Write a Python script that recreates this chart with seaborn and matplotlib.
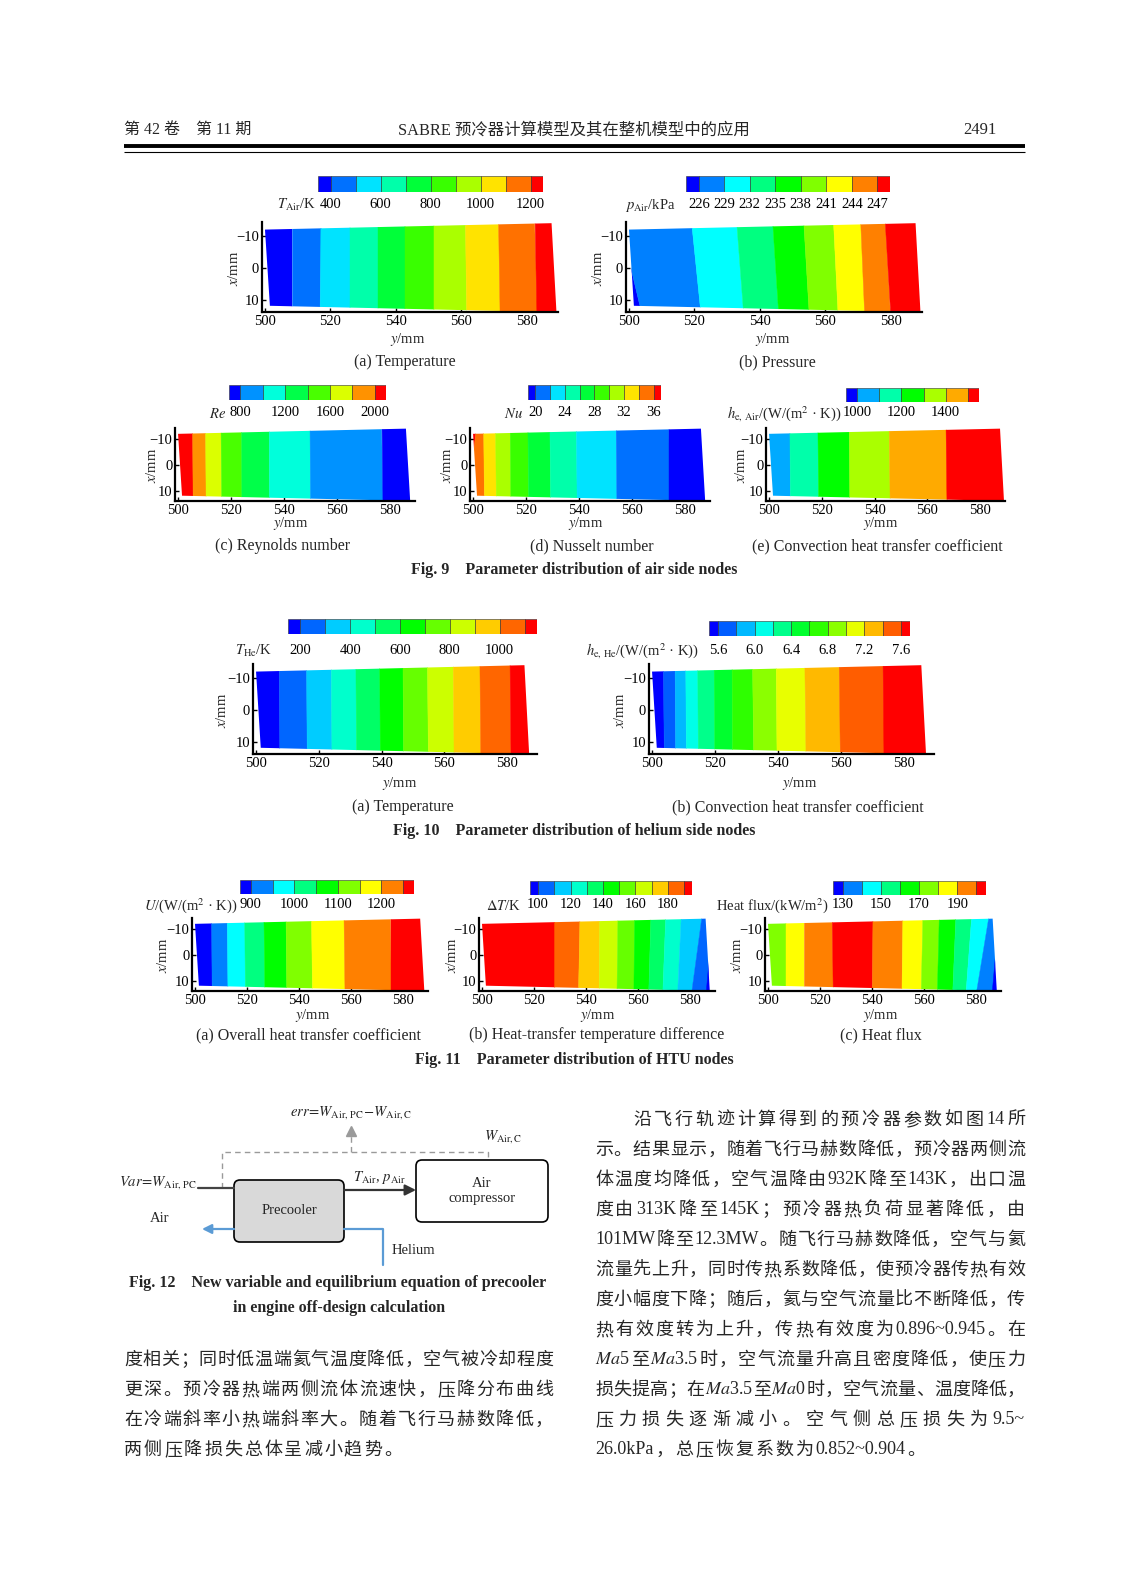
import numpy as np
import matplotlib
matplotlib.use("Agg")
import matplotlib.pyplot as plt
from matplotlib.colors import hsv_to_rgb
from matplotlib.patches import Polygon, FancyBboxPatch
import seaborn as sns

sns.set_theme(style="white")
plt.rcParams['font.family'] = ['Liberation Serif', 'Noto Sans CJK SC', 'DejaVu Sans']
plt.rcParams['mathtext.fontset'] = 'stix'
plt.rcParams['axes.unicode_minus'] = True

# ---------------------------------------------------------------- data
X_TICKS = [500, 520, 540, 560, 580]
Y_TICKS = [-10, 0, 10]

# Fig.9(a) air temperature
TA_BOUNDS = [350, 400, 500, 600, 700, 800, 900, 1000, 1100, 1200, 1250]
TA_TICKS = [400, 600, 800, 1000, 1200]
TA_TOP = [508.4, 517.2, 526.0, 534.4, 542.8, 551.6, 561.2, 571.3, 582.3]
TA_BOT = [508.4, 516.8, 526.0, 534.4, 542.8, 551.6, 561.6, 571.8, 583.2]
TA_CELLS = [0, 1, 2, 3, 4, 5, 6, 7, 8, 9]
TA_END = [587.5, 589.0]

# Fig.9(b) air pressure
PA_BOUNDS = [224.5, 226, 229, 232, 235, 238, 241, 244, 247, 248.5]
PA_TICKS = [226, 229, 232, 235, 238, 241, 244, 247]
PA_TOP = [497.0, 519.0, 532.8, 543.8, 553.3, 562.4, 570.7, 578.2]
PA_BOT = [504.2, 522.1, 535.1, 545.8, 555.1, 563.9, 572.0, 579.9]
PA_CELLS = [0, 1, 2, 3, 4, 5, 6, 7, 8]
PA_END = [587.5, 589.0]

# Fig.9(c) Reynolds number
RE_BOUNDS = [700, 800, 1000, 1200, 1400, 1600, 1800, 2000, 2100]
RE_TICKS = [800, 1200, 1600, 2000]
RE_TOP = [505.5, 510.4, 516.2, 524.0, 534.4, 549.8, 576.8]
RE_BOT = [505.7, 510.6, 516.5, 524.1, 534.5, 550.0, 577.4]
RE_CELLS = [7, 6, 5, 4, 3, 2, 1, 0]
RE_END = [586.0, 587.6]

# Fig.9(d) Nusselt number
NU_BOUNDS = [19, 20, 22, 24, 26, 28, 30, 32, 34, 36, 37]
NU_TICKS = [20, 24, 28, 32, 36]
NU_TOP = [501.4, 504.0, 508.5, 514.0, 520.7, 529.0, 539.0, 554.0, 573.9]
NU_BOT = [498.0, 504.3, 508.8, 514.3, 521.0, 529.3, 539.3, 554.3, 574.1]
NU_CELLS = [9, 8, 7, 6, 5, 4, 3, 2, 1, 0]
NU_END = [586.0, 587.6]

# Fig.9(e) air convection coefficient
HA_BOUNDS = [950, 1000, 1100, 1200, 1300, 1400, 1500, 1550]
HA_TICKS = [1000, 1200, 1400]
HA_TOP = [507.9, 518.5, 530.4, 545.5, 567.1]
HA_BOT = [508.1, 518.8, 530.6, 545.9, 567.5]
HA_CELLS = [1, 2, 3, 4, 5, 6]
HA_END = [587.5, 589.0]

# Fig.10(a) helium temperature
TH_BOUNDS = [150, 200, 300, 400, 500, 600, 700, 800, 900, 1000, 1100, 1150]
TH_TICKS = [200, 400, 600, 800, 1000]
TH_TOP = [507.4, 516.1, 524.0, 531.8, 539.4, 546.8, 554.6, 562.8, 571.3, 580.9]
TH_BOT = [507.6, 516.3, 524.2, 532.0, 539.6, 547.0, 554.9, 563.1, 571.6, 581.2]
TH_CELLS = [0, 1, 2, 3, 4, 5, 6, 7, 8, 9, 10]
TH_END = [585.5, 587.0]

# Fig.10(b) helium convection coefficient
HH_BOUNDS = [5.5, 5.6, 5.8, 6.0, 6.2, 6.4, 6.6, 6.8, 7.0, 7.2, 7.4, 7.6, 7.7]
HH_TICKS = [5.6, 6.0, 6.4, 6.8, 7.2, 7.6]
HH_TOP = [503.6, 507.3, 510.7, 514.5, 519.7, 525.4, 531.9, 539.4, 548.5, 559.4, 573.4]
HH_BOT = [503.9, 507.5, 510.9, 514.7, 519.9, 525.6, 532.3, 539.7, 548.9, 559.8, 573.8]
HH_CELLS = [0, 1, 2, 3, 4, 5, 6, 7, 8, 9, 10, 11]
HH_END = [585.5, 587.0]

# Fig.11(a) overall heat transfer coefficient
U_BOUNDS = [875, 900, 950, 1000, 1050, 1100, 1150, 1200, 1250, 1275]
U_TICKS = [900, 1000, 1100, 1200]
U_TOP = [506.4, 512.4, 519.1, 526.5, 535.0, 544.8, 557.3, 575.2]
U_BOT = [506.6, 512.7, 519.4, 526.9, 535.3, 545.2, 557.7, 575.5]
U_CELLS = [0, 1, 2, 3, 4, 5, 6, 7, 8]
U_END = [586.6, 588.2]

# Fig.11(b) temperature difference
DT_BOUNDS = [95, 100, 110, 120, 130, 140, 150, 160, 170, 180, 190, 195]
DT_TICKS = [100, 120, 140, 160, 180]
DT_TOP = [527.9, 537.7, 545.3, 552.3, 558.7, 565.0, 570.7, 576.7, 584.7, 589.0]
DT_BOT = [527.9, 537.1, 545.1, 551.9, 558.4, 564.1, 569.5, 575.2, 580.5, 586.3]
DT_CELLS = [10, 9, 8, 7, 6, 5, 4, 3, 2, 1, 0]
DT_END = [586.0, 587.6]

# Fig.11(c) heat flux
Q_BOUNDS = [125, 130, 140, 150, 160, 170, 180, 190, 200, 205]
Q_TICKS = [130, 150, 170, 190]
Q_TOP = [507.0, 514.0, 524.7, 540.4, 551.9, 559.6, 565.9, 572.3, 578.4, 585.1, 589.0]
Q_BOT = [507.0, 514.0, 525.1, 540.1, 551.5, 558.9, 565.1, 571.0, 576.1, 580.0, 586.3]
Q_CELLS = [5, 6, 7, 8, 7, 6, 5, 4, 3, 2, 1, 0]
Q_END = [586.4, 588.0]

# domain outline (y left edge top/bottom, x top left/right, x bottom left/right)
DOM_Y_LEFT = [500.0, 501.5]
DOM_X_TOP = [-12.0, -14.0]
DOM_X_BOT = [11.8, 13.8]

BODY_RIGHT = [
    "沿飞行轨迹计算得到的预冷器参数如图 14 所",
    "示。结果显示，随着飞行马赫数降低，预冷器两侧流",
    "体温度均降低，空气温降由 932K 降至 143K，出口温",
    "度由 313K 降至 145K；预冷器热负荷显著降低，由",
    "101MW 降至 12.3MW。随飞行马赫数降低，空气与氦",
    "流量先上升，同时传热系数降低，使预冷器传热有效",
    "度小幅度下降；随后，氦与空气流量比不断降低，传",
    "热有效度转为上升，传热有效度为 0.896~0.945。在",
    "Ma5 至 Ma3.5 时，空气流量升高且密度降低，使压力",
    "损失提高；在 Ma3.5 至 Ma0 时，空气流量、温度降低，",
    "压力损失逐渐减小。空气侧总压损失为 9.5~",
    "26.0kPa，总压恢复系数为 0.852~0.904。",
]
BODY_LEFT = [
    "度相关；同时低温端氦气温度降低，空气被冷却程度",
    "更深。预冷器热端两侧流体流速快，压降分布曲线",
    "在冷端斜率小热端斜率大。随着飞行马赫数降低，",
    "两侧压降损失总体呈减小趋势。",
]

# ---------------------------------------------------------------- figure
W, H = 1134, 1591
fig = plt.figure(figsize=(W / 100, H / 100), dpi=100)
fig.patch.set_facecolor('white')
page = fig.add_axes([0, 0, 1, 1], zorder=0)
page.set_xlim(0, W)
page.set_ylim(H, 0)
page.axis('off')

SERIF = ['Liberation Serif', 'Noto Sans CJK SC', 'DejaVu Sans']
CJK = ['Noto Sans CJK SC', 'Liberation Serif']


def pxrect(l, t, r, b):
    return [l / W, 1 - b / H, (r - l) / W, (b - t) / H]


def palette(n):
    hues = np.linspace(2 / 3, 0, n)
    return sns.color_palette([tuple(hsv_to_rgb((h, 1.0, 1.0))) for h in hues], n)


def draw_panel(axr, cbr, lab_x, lab_y, label, bounds, ticks, top, bot, cells,
               end, xl, yl, fmt="{:g}", fs=10.5):
    ncell = len(bounds) - 1
    cols = palette(ncell)
    # ----- contour axes
    ax = fig.add_axes(pxrect(*axr), zorder=2)
    ax.set_facecolor('none')
    ax.set_xlim(499, 589.5)
    ax.set_ylim(13.8, -14.4)
    dom = Polygon([(DOM_Y_LEFT[0], DOM_X_TOP[0]), (end[0], DOM_X_TOP[1]),
                   (end[1], DOM_X_BOT[1]), (DOM_Y_LEFT[1], DOM_X_BOT[0])],
                  closed=True, facecolor='none', edgecolor='none')
    ax.add_patch(dom)
    et = [470] + list(top) + [610]
    eb = [470] + list(bot) + [610]
    for i, c in enumerate(cells):
        polys = ax.fill([et[i], et[i + 1], eb[i + 1], eb[i]], [-15.5, -15.5, 15.5, 15.5],
                        color=cols[c], lw=0.3, ec=cols[c])
        polys[0].set_clip_path(dom)
    sns.despine(ax=ax)
    for s in ('left', 'bottom'):
        ax.spines[s].set_linewidth(1.6)
        ax.spines[s].set_color('black')
    ax.set_xticks(X_TICKS)
    ax.set_yticks(Y_TICKS)
    ax.tick_params(bottom=True, left=True, direction='in', length=3, width=1,
                   colors='black', labelsize=fs, pad=2.0)
    page.text(xl[0], xl[1], r"$y$/mm", ha='center', va='center', fontsize=fs)
    page.text(yl[0], yl[1], r"$x$/mm", ha='center', va='center', fontsize=fs, rotation=90)
    # ----- colour bar
    cax = fig.add_axes(pxrect(*cbr), zorder=2)
    cax.bar(bounds[:-1], 1, width=np.diff(bounds), align='edge', color=cols,
            edgecolor='#303030', linewidth=0.4)
    cax.set_xlim(bounds[0], bounds[-1])
    cax.set_ylim(0, 1)
    cax.set_yticks([])
    cax.set_xticks(ticks)
    cax.set_xticklabels([fmt.format(t) for t in ticks])
    pad = (lab_y - cbr[3] - 7.5) * 72 / 100
    cax.tick_params(axis='x', length=0, pad=pad, labelsize=fs, colors='black')
    for s in cax.spines.values():
        s.set_visible(False)
    page.text(lab_x, lab_y, label, ha='right', va='center', fontsize=fs)


PANELS = [
    dict(axr=(261.7, 221.9, 558.1, 312.2), cbr=(318, 176, 543, 192), lab_x=316, lab_y=205,
         label=r"$T_{\rm Air}$/K", bounds=TA_BOUNDS, ticks=TA_TICKS, top=TA_TOP, bot=TA_BOT,
         cells=TA_CELLS, end=TA_END, xl=(408, 340), yl=(234, 268)),
    dict(axr=(625.7, 221.9, 922.1, 312.2), cbr=(686, 176, 890, 192), lab_x=676, lab_y=205,
         label=r"$p_{\rm Air}$/kPa", bounds=PA_BOUNDS, ticks=PA_TICKS, top=PA_TOP, bot=PA_BOT,
         cells=PA_CELLS, end=PA_END, xl=(773, 340), yl=(598, 268)),
    dict(axr=(175.4, 427.6, 415.2, 500.9), cbr=(229, 385, 386, 400), lab_x=226, lab_y=414,
         label=r"$Re$", bounds=RE_BOUNDS, ticks=RE_TICKS, top=RE_TOP, bot=RE_BOT,
         cells=RE_CELLS, end=RE_END, xl=(291, 523), yl=(152, 465)),
    dict(axr=(470.4, 427.6, 710.2, 500.9), cbr=(528, 385, 661, 400), lab_x=523, lab_y=414,
         label=r"$Nu$", bounds=NU_BOUNDS, ticks=NU_TICKS, top=NU_TOP, bot=NU_BOT,
         cells=NU_CELLS, end=NU_END, xl=(586, 523), yl=(447, 465)),
    dict(axr=(766.4, 427.6, 1005.3, 500.9), cbr=(846, 388, 979, 402), lab_x=841, lab_y=414,
         label=r"$h_{\rm e,\,Air}$/(W/(m$^2$ · K))", bounds=HA_BOUNDS, ticks=HA_TICKS,
         top=HA_TOP, bot=HA_BOT, cells=HA_CELLS, end=HA_END, xl=(881, 523), yl=(741, 465)),
    dict(axr=(252.9, 663.9, 537.0, 754.2), cbr=(288, 619, 537, 634), lab_x=272, lab_y=651,
         label=r"$T_{\rm He}$/K", bounds=TH_BOUNDS, ticks=TH_TICKS, top=TH_TOP, bot=TH_BOT,
         cells=TH_CELLS, end=TH_END, xl=(400, 784), yl=(222, 710)),
    dict(axr=(648.9, 663.9, 933.9, 754.2), cbr=(709, 621, 910, 636), lab_x=699, lab_y=651,
         label=r"$h_{\rm e,\,He}$/(W/(m$^2$ · K))", bounds=HH_BOUNDS, ticks=HH_TICKS,
         top=HH_TOP, bot=HH_BOT, cells=HH_CELLS, end=HH_END, xl=(800, 784), yl=(620, 710),
         fmt="{:.1f}"),
    dict(axr=(192.4, 917.6, 427.7, 990.9), cbr=(240, 880, 414, 894), lab_x=238, lab_y=906,
         label=r"$U$/(W/(m$^2$ · K))", bounds=U_BOUNDS, ticks=U_TICKS, top=U_TOP, bot=U_BOT,
         cells=U_CELLS, end=U_END, xl=(313, 1016), yl=(163, 955)),
    dict(axr=(479.4, 917.6, 714.7, 990.9), cbr=(530, 881, 692, 895), lab_x=521, lab_y=906,
         label=r"$\Delta T$/K", bounds=DT_BOUNDS, ticks=DT_TICKS, top=DT_TOP, bot=DT_BOT,
         cells=DT_CELLS, end=DT_END, xl=(598, 1016), yl=(452, 955)),
    dict(axr=(765.4, 917.6, 1000.7, 990.9), cbr=(833, 881, 986, 895), lab_x=829, lab_y=906,
         label=r"Heat flux/(kW/m$^2$)", bounds=Q_BOUNDS, ticks=Q_TICKS, top=Q_TOP, bot=Q_BOT,
         cells=Q_CELLS, end=Q_END, xl=(881, 1016), yl=(737, 955)),
]
for p in PANELS:
    draw_panel(**p)

# ---------------------------------------------------------------- header
page.text(124, 130, "第 42 卷　第 11 期", ha='left', va='center', fontsize=11.5, family=SERIF)
page.text(574, 130, "SABRE 预冷器计算模型及其在整机模型中的应用", ha='center', va='center',
          fontsize=11.8, family=SERIF)
page.text(997, 130, "2491", ha='right', va='center', fontsize=12, family=SERIF)
page.plot([124, 1025], [146, 146], color='black', lw=2.8, solid_capstyle='butt')
page.plot([124, 1025], [151.5, 151.5], color='black', lw=0.8, solid_capstyle='butt')

# ---------------------------------------------------------------- captions
CAP = 11.5
caps = [
    ("(a) Temperature", 405, 362), ("(b) Pressure", 777, 362),
    ("(c) Reynolds number", 283, 546), ("(d) Nusselt number", 592, 546),
    ("(e) Convection heat transfer coefficient", 877, 546),
    ("(a) Temperature", 403, 807), ("(b) Convection heat transfer coefficient", 798, 807),
    ("(a) Overall heat transfer coefficient", 308, 1035),
    ("(b) Heat-transfer temperature difference", 597, 1035),
    ("(c) Heat flux", 881, 1035),
]
for s, x, y in caps:
    page.text(x, y, s, ha='center', va='center', fontsize=CAP)
figcaps = [
    ("Fig. 9    Parameter distribution of air side nodes", 574, 570),
    ("Fig. 10    Parameter distribution of helium side nodes", 574, 831),
    ("Fig. 11    Parameter distribution of HTU nodes", 574, 1060),
    ("Fig. 12    New variable and equilibrium equation of precooler", 338, 1283),
    ("in engine off-design calculation", 339, 1308),
]
for s, x, y in figcaps:
    page.text(x, y, s, ha='center', va='center', fontsize=11.5, fontweight='bold')

# ---------------------------------------------------------------- Fig. 12 diagram
GREY = '#9a9a9a'
BLUE = '#5b9bd5'
page.text(351, 1113, r"$err\!=\!W_{\rm Air,\,PC}\!-\!W_{\rm Air,C}$", ha='center',
          va='center', fontsize=10.5)
page.plot([222, 222, 488, 488], [1188, 1152, 1152, 1160], ls=(0, (4, 3)), color=GREY, lw=1)
page.plot([351, 351], [1152, 1136], ls=(0, (4, 3)), color=GREY, lw=1)
page.plot([351], [1131], marker='^', color=GREY, markersize=7)
page.text(503, 1137, r"$W_{\rm Air,C}$", ha='center', va='center', fontsize=10.5)
page.text(197, 1183, r"$Var\!=\!W_{\rm Air,\,PC}$", ha='right', va='center', fontsize=10.5)
page.plot([198, 234], [1188, 1188], color='#444444', lw=1.6)
page.add_patch(FancyBboxPatch((234, 1180), 110, 62, boxstyle='round,pad=0,rounding_size=6',
                              fc='#d9d9d9', ec='black', lw=1.2))
page.text(289, 1211, "Precooler", ha='center', va='center', fontsize=10.5)
page.annotate('', xy=(416, 1190), xytext=(344, 1190),
              arrowprops=dict(arrowstyle='-|>', color='#333333', lw=1.6, mutation_scale=16,
                              shrinkA=0, shrinkB=0))
page.text(379, 1177, r"$T_{\rm Air}$, $p_{\rm Air}$", ha='center', va='center', fontsize=10.5)
page.add_patch(FancyBboxPatch((416, 1160), 132, 62, boxstyle='round,pad=0,rounding_size=6',
                              fc='white', ec='black', lw=1.2))
page.text(482, 1191, "Air\ncompressor", ha='center', va='center', fontsize=10.5,
          linespacing=1.25)
page.text(160, 1218, "Air", ha='center', va='center', fontsize=10.5)
page.annotate('', xy=(202, 1229), xytext=(234, 1229),
              arrowprops=dict(arrowstyle='-|>', color=BLUE, lw=1.6, mutation_scale=14,
                              shrinkA=0, shrinkB=0))
page.plot([344, 383, 383], [1229, 1229, 1265], color=BLUE, lw=1.6)
page.text(413, 1250, "Helium", ha='center', va='center', fontsize=10.5)

# ---------------------------------------------------------------- body text
renderer = fig.canvas.get_renderer()
BODY_FS = 13


def tokens(s):
    out, buf = [], ''
    for ch in s:
        if ord(ch) < 128:
            if ch == ' ':
                if buf:
                    out.append(buf)
                    buf = ''
            else:
                buf += ch
        else:
            if buf:
                out.append(buf)
                buf = ''
            out.append(ch)
    if buf:
        out.append(buf)
    return out


def body_line(s, x0, x1, y, justify=True):
    items = []
    for tk in tokens(s):
        if ord(tk[0]) < 128:
            txt = tk
            if tk.startswith('Ma'):
                txt = r"$\mathit{Ma}$" + tk[2:]
            t = page.text(0, y, txt, ha='left', va='center', fontsize=BODY_FS,
                          family=['Liberation Serif'])
        else:
            t = page.text(0, y, tk, ha='left', va='center', fontsize=BODY_FS, family=CJK)
        items.append(t)
    widths = [t.get_window_extent(renderer).width for t in items]
    if justify and len(items) > 1:
        gap = (x1 - x0 - sum(widths)) / (len(items) - 1)
    else:
        gap = 2.0
    x = x0
    for t, w in zip(items, widths):
        t.set_x(x)
        x += w + gap


LINE_H = 30
for i, s in enumerate(BODY_RIGHT):
    x0 = 633 if i == 0 else 595
    body_line(s, x0, 1025, 1120 + i * LINE_H, justify=(i != len(BODY_RIGHT) - 1))
for i, s in enumerate(BODY_LEFT):
    body_line(s, 124, 553, 1360 + i * LINE_H, justify=(i != len(BODY_LEFT) - 1))

fig.savefig("out.png", dpi=100, facecolor='white')
